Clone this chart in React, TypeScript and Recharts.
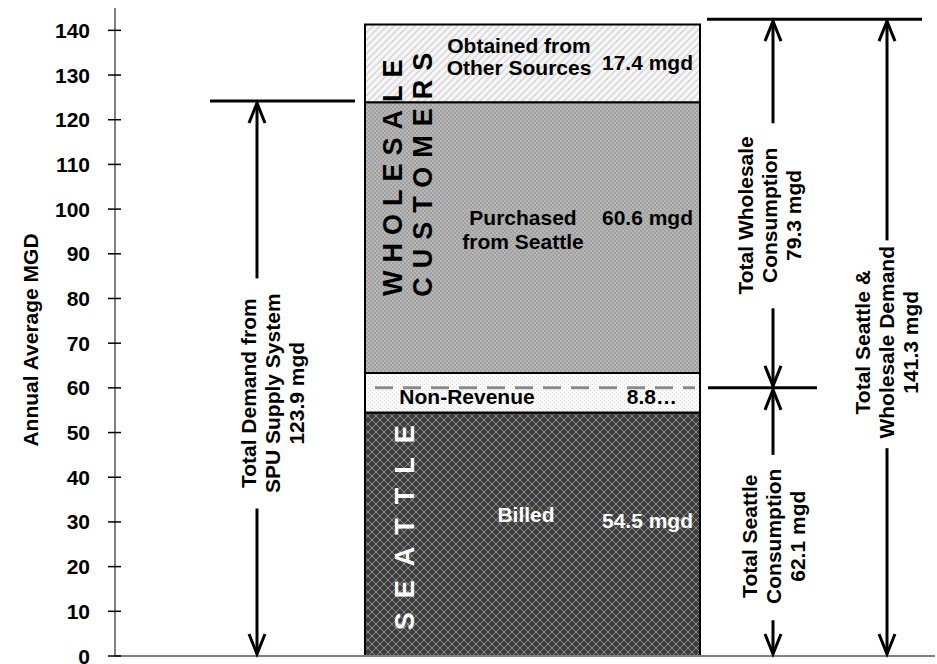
import * as React from 'react'
import {
  Bar,
  ComposedChart,
  Label,
  LabelList,
  ReferenceDot,
  ReferenceLine,
  XAxis,
  YAxis
} from 'recharts'

// one stacked column: Seattle (billed + non-revenue) under wholesale (purchased + other)
const CATEGORIES = ['Demand']
const BILLED = [54.5]
const NON_REVENUE = [8.8]
const PURCHASED = [60.6]
const OTHER_SOURCES = [17.4]
const Y_TICKS = [0, 10, 20, 30, 40, 50, 60, 70, 80, 90, 100, 110, 120, 130, 140]

const FONT = '"Liberation Sans", Arial, sans-serif'
const AXIS_X = 115
const AXIS_GRAY = '#808080'

const data = CATEGORIES.map((c, i) => ({
  name: c,
  pos: 417,
  billed: BILLED[i],
  nonRevenue: NON_REVENUE[i],
  purchased: PURCHASED[i],
  other: OTHER_SOURCES[i]
}))

function VText({
  cx,
  cy,
  lines,
  fs = 21,
  lh = 24,
  fill = '#000',
  ls = 0
}: {
  cx: number
  cy: number
  lines: string[]
  fs?: number
  lh?: number
  fill?: string
  ls?: number
}) {
  return (
    <text
      transform={`translate(${cx},${cy}) rotate(-90)`}
      textAnchor="middle"
      fontFamily={FONT}
      fontSize={fs}
      fontWeight="bold"
      fill={fill}
      letterSpacing={ls || undefined}
    >
      {lines.map((l, i) => (
        <tspan key={i} x={ls / 2} y={(i - (lines.length - 1) / 2) * lh + fs * 0.36}>
          {l}
        </tspan>
      ))}
    </text>
  )
}

function YTick({ y, payload }: any) {
  return (
    <g>
      <line x1={AXIS_X - 7} x2={AXIS_X + 6} y1={y} y2={y} stroke="#000" strokeWidth={1.5} />
      <text
        x={AXIS_X - 25}
        y={y}
        dy="0.36em"
        textAnchor="end"
        fontFamily={FONT}
        fontSize={21}
        fontWeight="bold"
        fill="#000"
      >
        {payload.value}
      </text>
    </g>
  )
}

// arrow: line with an open V head at (x2, y2)
function ArrowShape(props: any) {
  const { x1, y1, x2, y2 } = props
  const dir = y2 < y1 ? -1 : 1
  const tipY = y2 - dir * 2
  return (
    <g>
      <line x1={x1} y1={y1} x2={x2} y2={tipY} stroke="#000" strokeWidth={3} />
      <polyline
        points={`${x2 - 8},${tipY - dir * 20} ${x2},${tipY} ${x2 + 8},${tipY - dir * 20}`}
        fill="none"
        stroke="#000"
        strokeWidth={3}
      />
    </g>
  )
}

type Seg = {
  lines: string[]
  nx: number
  ny: number
  lh: number
  vx: number
  vy: number
  color: string
  fmt: (v: number) => string
}

function segLabel(s: Seg) {
  return (p: any) => {
    const x = Number(p.x)
    const y = Number(p.y)
    return (
      <g fontFamily={FONT} fontSize={21} fontWeight="bold" fill={s.color}>
        {s.lines.map((l, i) => (
          <text key={i} x={x + s.nx} y={y + s.ny + i * s.lh} textAnchor="middle">
            {l}
          </text>
        ))}
        <text x={x + s.vx} y={y + s.vy} textAnchor="end">
          {s.fmt(Number(p.value))}
        </text>
      </g>
    )
  }
}

const mgd = (v: number) => `${v} mgd`

// annotation lines on a hidden helper x-axis (0..820 across the plot)
const H_LINES = [
  { y: 124.2, x: [95, 240] },
  { y: 142.5, x: [592, 807] },
  { y: 60, x: [593, 702] }
]
const ARROWS = [
  { x: 142, from: 84.5, to: 124.2 },
  { x: 142, from: 33, to: 0 },
  { x: 658, from: 119.2, to: 142.5 },
  { x: 658, from: 77.8, to: 60 },
  { x: 658, from: 45, to: 60 },
  { x: 658, from: 8, to: 0 },
  { x: 772, from: 93, to: 142.5 },
  { x: 772, from: 46.5, to: 0 }
]
const NOTES = [
  { x: 157, y: 58.8, lines: ['Total Demand from', 'SPU Supply System', '123.9 mgd'] },
  { x: 654, y: 98.6, lines: ['Total Wholesale', 'Consumption', '79.3 mgd'] },
  { x: 658, y: 26.8, lines: ['Total Seattle', 'Consumption', '62.1 mgd'] },
  { x: 771, y: 70.2, lines: ['Total Seattle &', 'Wholesale Demand', '141.3 mgd'] }
]
const BIG_WORDS = [
  { x: 277, y: 107.0, text: 'WHOLESALE', fill: '#000', ls: 8 },
  { x: 307, y: 107.7, text: 'CUSTOMERS', fill: '#000', ls: 9 },
  { x: 289, y: 28.7, text: 'SEATTLE', fill: '#fff', ls: 14 }
]

export default function App() {
  return (
    <div style={{ position: 'absolute', left: 0, top: 0, width: 937, height: 664, background: '#fff' }}>
      <svg width={0} height={0} style={{ position: 'absolute' }}>
        <defs>
          <pattern id="patBilled" width={8} height={8} patternUnits="userSpaceOnUse">
            <rect width={8} height={8} fill="#3d3d3d" />
            <path d="M0,0 L8,8 M8,0 L0,8" stroke="#8c8c8c" strokeWidth={1} />
          </pattern>
          <pattern id="patNonRev" width={4} height={4} patternUnits="userSpaceOnUse">
            <rect width={4} height={4} fill="#fbfbfb" />
            <rect width={1} height={1} fill="#dcdcdc" />
            <rect x={2} y={2} width={1} height={1} fill="#dcdcdc" />
          </pattern>
          <pattern id="patPurchased" width={4} height={4} patternUnits="userSpaceOnUse">
            <rect width={4} height={4} fill="#a0a0a0" />
            <rect width={2} height={2} fill="#b7b7b7" />
            <rect x={2} y={2} width={2} height={2} fill="#b7b7b7" />
          </pattern>
          <pattern id="patOther" width={7} height={7} patternUnits="userSpaceOnUse">
            <rect width={7} height={7} fill="#f6f6f6" />
            <path d="M0,7 L7,0 M-1,1 L1,-1 M6,8 L8,6" stroke="#d6d6d6" strokeWidth={1.5} />
          </pattern>
        </defs>
      </svg>
      <ComposedChart
        width={937}
        height={664}
        data={data}
        margin={{ top: 8, right: 2, bottom: 8, left: 0 }}
        barCategoryGap={0}
      >
        <XAxis
          dataKey="name"
          height={0}
          tick={false}
          tickLine={false}
          axisLine={{ stroke: AXIS_GRAY, strokeWidth: 2 }}
          padding={{ left: 231, right: 216 }}
        />
        <XAxis
          xAxisId="px"
          dataKey="pos"
          type="number"
          domain={[0, 820]}
          allowDataOverflow
          height={0}
          tick={false}
          tickLine={false}
          axisLine={false}
        />
        <YAxis
          width={AXIS_X}
          domain={[0, 145]}
          ticks={Y_TICKS}
          interval={0}
          tickLine={false}
          axisLine={{ stroke: AXIS_GRAY, strokeWidth: 2 }}
          tick={<YTick />}
          label={
            <Label content={() => <VText cx={30} cy={340} lines={['Annual Average MGD']} />} />
          }
        />
        <ReferenceLine y={0} stroke={AXIS_GRAY} strokeWidth={2} />
        <Bar dataKey="billed" stackId="a" barSize={335} fill="url(#patBilled)" stroke="#000" strokeWidth={2} isAnimationActive={false}>
          <LabelList
            dataKey="billed"
            content={segLabel({ lines: ['Billed'], nx: 161, ny: 110, lh: 22, vx: 328, vy: 116, color: '#fff', fmt: mgd })}
          />
        </Bar>
        <Bar dataKey="nonRevenue" stackId="a" barSize={335} fill="url(#patNonRev)" stroke="#000" strokeWidth={2} isAnimationActive={false}>
          <LabelList
            dataKey="nonRevenue"
            content={segLabel({ lines: ['Non-Revenue'], nx: 102, ny: 31, lh: 22, vx: 312, vy: 31, color: '#000', fmt: (v) => `${v}…` })}
          />
        </Bar>
        <Bar dataKey="purchased" stackId="a" barSize={335} fill="url(#patPurchased)" stroke="#000" strokeWidth={2} isAnimationActive={false}>
          <LabelList
            dataKey="purchased"
            content={segLabel({ lines: ['Purchased', 'from Seattle'], nx: 158, ny: 123, lh: 24, vx: 328, vy: 123, color: '#000', fmt: mgd })}
          />
        </Bar>
        <Bar dataKey="other" stackId="a" barSize={335} fill="url(#patOther)" stroke="#000" strokeWidth={2} isAnimationActive={false}>
          <LabelList
            dataKey="other"
            content={segLabel({ lines: ['Obtained from', 'Other Sources'], nx: 154, ny: 28, lh: 22, vx: 328, vy: 45, color: '#000', fmt: mgd })}
          />
        </Bar>

        <ReferenceLine
          xAxisId="px"
          segment={[{ x: 260, y: 60 }, { x: 580, y: 60 }]}
          stroke="#8a8a8a"
          strokeWidth={3}
          strokeDasharray="18 10"
        />
        {BIG_WORDS.map((w) => (
          <ReferenceDot
            key={w.text}
            xAxisId="px"
            x={w.x}
            y={w.y}
            r={0}
            shape={(p: any) => <VText cx={p.cx} cy={p.cy} lines={[w.text]} fs={27} fill={w.fill} ls={w.ls} />}
          />
        ))}
        {H_LINES.map((h, i) => (
          <ReferenceLine
            key={'h' + i}
            xAxisId="px"
            segment={[{ x: h.x[0], y: h.y }, { x: h.x[1], y: h.y }]}
            stroke="#000"
            strokeWidth={3}
          />
        ))}
        {ARROWS.map((a, i) => (
          <ReferenceLine
            key={'a' + i}
            xAxisId="px"
            segment={[{ x: a.x, y: a.from }, { x: a.x, y: a.to }]}
            shape={<ArrowShape />}
          />
        ))}
        {NOTES.map((n, i) => (
          <ReferenceDot
            key={'n' + i}
            xAxisId="px"
            x={n.x}
            y={n.y}
            r={0}
            shape={(p: any) => <VText cx={p.cx} cy={p.cy} lines={n.lines} />}
          />
        ))}
      </ComposedChart>
    </div>
  )
}
